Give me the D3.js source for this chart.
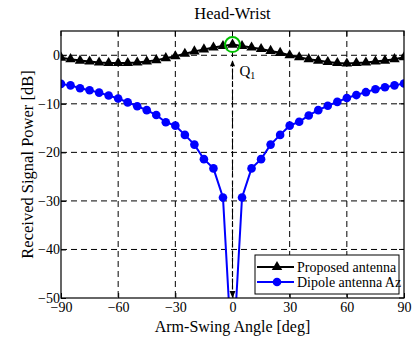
<!DOCTYPE html>
<html>
<head>
<meta charset="utf-8">
<script src="https://cdn.jsdelivr.net/npm/d3@7"></script>
<style>
  body { margin: 0; background: #fff; }
  svg { display: block; font-family: "Liberation Serif", "Times New Roman", "DejaVu Serif", serif; }
</style>
</head>
<body>
<div id="chart"></div>
<script>
const WIDTH = 412
const HEIGHT = 338
const FONT = '"Liberation Serif", "Times New Roman", "DejaVu Serif", serif'

// angles in degrees, 5 deg steps
const angles = d3.range(-90, 91, 5)

// Proposed antenna (black triangles), dB
const proposed = [
  -0.5, -0.8, -1.1, -1.3, -1.5, -1.6, -1.6, -1.6, -1.5, -1.3,
  -1.0, -0.6, -0.2, 0.3, 0.8, 1.2, 1.6, 1.9, 2.2, 1.9,
  1.6, 1.3, 0.9, 0.5, 0.0, -0.4, -0.8, -1.1, -1.4, -1.6,
  -1.7, -1.6, -1.5, -1.3, -1.1, -0.8, -0.4
]

// Dipole antenna Az (blue circles), dB
const dipole = [
  -5.9, -6.2, -6.8, -7.2, -7.7, -8.3, -8.9, -9.7, -10.5, -11.3,
  -12.3, -13.8, -14.5, -16.4, -18.4, -21.4, -23.3, -29.3, -64, -29.3,
  -23.3, -21.4, -18.4, -16.4, -14.5, -13.7, -12.4, -11.3, -10.4, -9.6,
  -8.8, -8.2, -7.6, -7.0, -6.6, -6.2, -5.8
]

const xTicks = [-90, -60, -30, 0, 30, 60, 90]
const yTicks = [0, -10, -20, -30, -40, -50]
const seriesNames = ['Proposed antenna', 'Dipole antenna Az']

const margin = { top: 31, right: 8, bottom: 40, left: 61 }
const innerW = WIDTH - margin.left - margin.right
const innerH = HEIGHT - margin.top - margin.bottom

const x = d3.scaleLinear().domain([-90, 90]).range([0, innerW])
const y = d3.scaleLinear().domain([-50, 5]).range([innerH, 0])

const svg = d3.select('#chart').append('svg')
  .attr('width', WIDTH)
  .attr('height', HEIGHT)
  .attr('font-family', FONT)

svg.append('defs').append('clipPath')
  .attr('id', 'plot-clip')
  .append('rect')
  .attr('width', innerW)
  .attr('height', innerH)

const g = svg.append('g')
  .attr('transform', `translate(${margin.left},${margin.top})`)

// dashed grid
g.append('g')
  .selectAll('line')
  .data(xTicks.filter(d => d > -90 && d < 90))
  .join('line')
  .attr('x1', d => x(d)).attr('x2', d => x(d))
  .attr('y1', 0).attr('y2', innerH)
  .attr('stroke', '#000').attr('stroke-width', 1)
  .attr('stroke-dasharray', '6,4')

g.append('g')
  .selectAll('line')
  .data(yTicks.filter(d => d > -50))
  .join('line')
  .attr('x1', 0).attr('x2', innerW)
  .attr('y1', d => y(d)).attr('y2', d => y(d))
  .attr('stroke', '#000').attr('stroke-width', 1)
  .attr('stroke-dasharray', '6,4')

// axes with inside ticks
const xAxis = g.append('g')
  .attr('transform', `translate(0,${innerH})`)
  .call(d3.axisBottom(x).tickValues(xTicks).tickSize(-5).tickPadding(4).tickSizeOuter(0))
const yAxis = g.append('g')
  .call(d3.axisLeft(y).tickValues(yTicks).tickSize(-5).tickPadding(1).tickSizeOuter(0))

;[xAxis, yAxis].forEach(ax => {
  ax.attr('font-family', FONT).attr('font-size', 14)
  ax.select('.domain').remove()
  ax.selectAll('text').attr('fill', '#000')
  ax.selectAll('.tick line').attr('stroke', '#000')
})

// top ticks and right ticks
g.append('g').selectAll('line')
  .data(xTicks)
  .join('line')
  .attr('x1', d => x(d)).attr('x2', d => x(d))
  .attr('y1', 0).attr('y2', 5)
  .attr('stroke', '#000')
g.append('g').selectAll('line')
  .data(yTicks)
  .join('line')
  .attr('x1', innerW).attr('x2', innerW - 5)
  .attr('y1', d => y(d)).attr('y2', d => y(d))
  .attr('stroke', '#000')

const plot = g.append('g').attr('clip-path', 'url(#plot-clip)')

// Q1 dashed arrow
const arrowX = x(0)
plot.append('line')
  .attr('x1', arrowX).attr('x2', arrowX)
  .attr('y1', y(-1.3)).attr('y2', innerH - 4)
  .attr('stroke', '#000').attr('stroke-width', 1.2)
  .attr('stroke-dasharray', '4,3')
plot.append('path')
  .attr('d', `M${arrowX},${y(-1)} l-2.5,6 l5,0 z`)
  .attr('fill', '#000')
plot.append('path')
  .attr('d', `M${arrowX},${innerH} l-3,-7 l6,0 z`)
  .attr('fill', '#000')

const line = d3.line()
  .x((d, i) => x(angles[i]))
  .y(d => y(d))

// dipole line and markers
plot.append('path')
  .datum(dipole)
  .attr('d', line)
  .attr('fill', 'none')
  .attr('stroke', '#0000ff')
  .attr('stroke-width', 2)
plot.append('g')
  .selectAll('circle')
  .data(dipole)
  .join('circle')
  .attr('cx', (d, i) => x(angles[i]))
  .attr('cy', d => y(d))
  .attr('r', 4.3)
  .attr('fill', '#0000ff')

// proposed line and markers
plot.append('path')
  .datum(proposed)
  .attr('d', line)
  .attr('fill', 'none')
  .attr('stroke', '#000')
  .attr('stroke-width', 2)
const tri = d3.symbol().type(d3.symbolTriangle).size(48)
plot.append('g')
  .selectAll('path')
  .data(proposed)
  .join('path')
  .attr('transform', (d, i) => `translate(${x(angles[i])},${y(d)})`)
  .attr('d', tri)
  .attr('fill', '#000')

// green circle at peak
g.append('circle')
  .attr('cx', x(0))
  .attr('cy', y(proposed[angles.indexOf(0)]))
  .attr('r', 7.5)
  .attr('fill', 'none')
  .attr('stroke', '#00c000')
  .attr('stroke-width', 2)

// Q1 label
const q = g.append('text')
  .attr('x', x(0) + 7)
  .attr('y', y(-4.3))
  .attr('font-size', 15)
  .attr('fill', '#000')
q.append('tspan').text('Q')
q.append('tspan').attr('font-size', 10).attr('dy', 3).text('1')

// frame
g.append('rect')
  .attr('width', innerW)
  .attr('height', innerH)
  .attr('fill', 'none')
  .attr('stroke', '#000')
  .attr('stroke-width', 1.2)

// legend
const legend = g.append('g')
  .attr('transform', `translate(${innerW - 149},${innerH - 43})`)
legend.append('rect')
  .attr('width', 144)
  .attr('height', 39)
  .attr('fill', '#fff')
  .attr('stroke', '#000')
const legendColors = ['#000', '#0000ff']
seriesNames.forEach((name, i) => {
  const row = legend.append('g').attr('transform', `translate(0,${12 + i * 15})`)
  row.append('line')
    .attr('x1', 2).attr('x2', 39)
    .attr('stroke', legendColors[i]).attr('stroke-width', 2)
  if (i === 0) {
    row.append('path').attr('transform', 'translate(22,0)').attr('d', tri).attr('fill', '#000')
  } else {
    row.append('circle').attr('cx', 22).attr('r', 4.3).attr('fill', '#0000ff')
  }
  row.append('text')
    .attr('x', 42)
    .attr('dy', '0.35em')
    .attr('font-size', 14)
    .text(name)
})

// title and axis labels
svg.append('text')
  .attr('x', margin.left + x(0))
  .attr('y', 19)
  .attr('text-anchor', 'middle')
  .attr('font-size', 16.5)
  .text('Head-Wrist')

svg.append('text')
  .attr('x', margin.left + x(0))
  .attr('y', 332)
  .attr('text-anchor', 'middle')
  .attr('font-size', 16)
  .text('Arm-Swing Angle [deg]')

svg.append('text')
  .attr('transform', `translate(33,${margin.top + innerH / 2}) rotate(-90)`)
  .attr('text-anchor', 'middle')
  .attr('font-size', 16.5)
  .text('Received Signal Power [dB]')
</script>
</body>
</html>
